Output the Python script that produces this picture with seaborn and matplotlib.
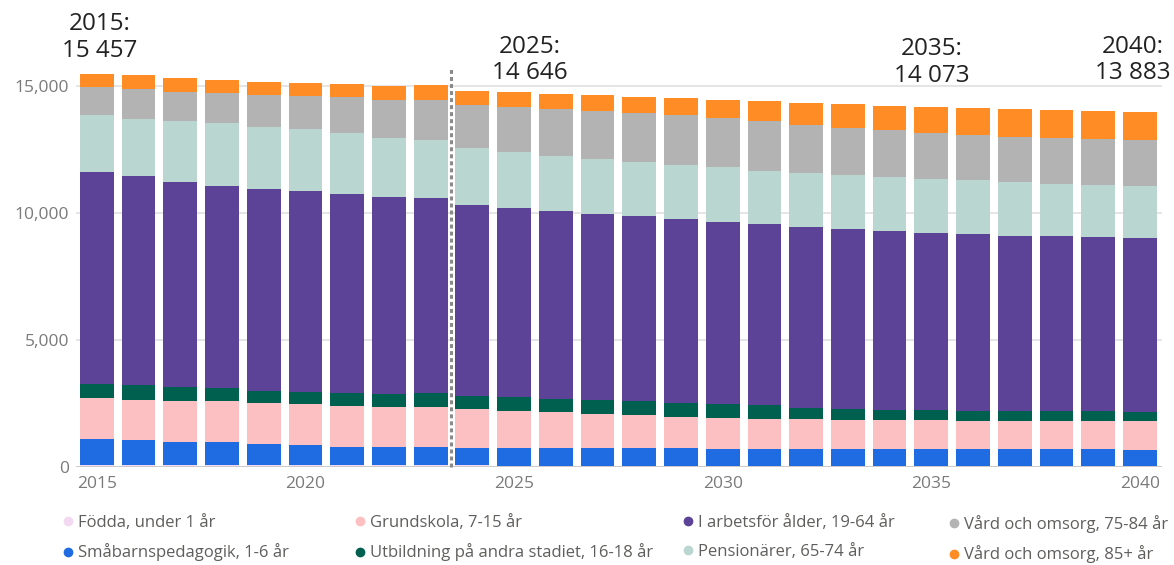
import matplotlib
matplotlib.use("Agg")
import matplotlib.pyplot as plt
from matplotlib.lines import Line2D
from matplotlib.ticker import FuncFormatter
import numpy as np
import pandas as pd
import seaborn as sns

# Data (persons per age group, stacked bottom to top)
years = list(range(2015, 2041))
fodda = [65, 70, 65, 60, 60, 60, 60, 60, 60, 50, 45, 45, 45, 45, 45, 45, 45,
         45, 45, 45, 45, 45, 45, 45, 45, 45]
smabarn = [1026, 982, 920, 901, 823, 783, 728, 728, 728, 699, 704, 704, 704,
           680, 680, 664, 664, 664, 652, 652, 652, 652, 652, 641, 641, 625]
grundskola = [1604, 1588, 1615, 1616, 1615, 1616, 1604, 1564, 1552, 1524, 1457,
              1394, 1327, 1300, 1245, 1221, 1182, 1158, 1143, 1143, 1131, 1115,
              1115, 1115, 1115, 1119]
utbildning = [563, 579, 540, 512, 496, 496, 524, 501, 552, 524, 528, 513, 552,
              552, 528, 529, 528, 458, 433, 406, 394, 394, 394, 394, 394, 378]
arbetsfor = [8365, 8235, 8089, 7982, 7936, 7908, 7829, 7773, 7683, 7514, 7471,
             7430, 7340, 7289, 7250, 7194, 7132, 7131, 7092, 7041, 6986, 6951,
             6895, 6883, 6855, 6856]
pensionarer = [2234, 2245, 2392, 2459, 2466, 2443, 2391, 2325, 2285, 2234, 2182,
               2144, 2143, 2127, 2127, 2143, 2111, 2116, 2128, 2127, 2139, 2127,
               2104, 2060, 2049, 2024]
vard_75_84 = [1115, 1182, 1154, 1182, 1237, 1311, 1442, 1509, 1576, 1706, 1785,
              1852, 1892, 1931, 1970, 1943, 1947, 1903, 1852, 1840, 1813, 1773,
              1785, 1801, 1801, 1813]
vard_85 = [489, 540, 528, 524, 512, 501, 512, 551, 591, 563, 579, 602, 642, 654,
           670, 709, 788, 855, 945, 969, 1012, 1076, 1103, 1115, 1115, 1115]

series = {
    "Födda, under 1 år": (fodda, "#F2D8F0"),
    "Småbarnspedagogik, 1-6 år": (smabarn, "#1F6BE2"),
    "Grundskola, 7-15 år": (grundskola, "#FCC0C3"),
    "Utbildning på andra stadiet, 16-18 år": (utbildning, "#00604F"),
    "I arbetsför ålder, 19-64 år": (arbetsfor, "#5C4398"),
    "Pensionärer, 65-74 år": (pensionarer, "#BAD6D1"),
    "Vård och omsorg, 75-84 år": (vard_75_84, "#B3B3B3"),
    "Vård och omsorg, 85+ år": (vard_85, "#FF8C24"),
}

callouts = [("2015:\n15 457", 2015), ("2025:\n14 646", 2025),
            ("2035:\n14 073", 2035), ("2040:\n13 883", 2040)]

df = pd.DataFrame({name: vals for name, (vals, _) in series.items()})
df["year"] = [str(y) for y in years]
names = list(series.keys())
cum = df[names].cumsum(axis=1)

sns.set_style("white")
plt.rcParams["font.family"] = ["Open Sans", "DejaVu Sans"]

fig = plt.figure(figsize=(11.74, 5.65), dpi=100)
ax = fig.add_axes([76 / 1174, 1 - 466.7 / 565, 1086 / 1174, (466.7 - 70.8) / 565])

# draw cumulative totals from the top layer down so each layer covers the next
for name in reversed(names):
    sns.barplot(x=df["year"], y=cum[name], color=series[name][1], saturation=1,
                width=0.81, ax=ax, zorder=3, linewidth=0)

ax.set_xlim(-0.5, 25.53)
ax.set_ylim(0, 15600)
ax.set_yticks([0, 5000, 10000, 15000])
ax.yaxis.set_major_formatter(FuncFormatter(lambda v, p: f"{int(v):,}"))
ax.set_xticks([0, 5, 10, 15, 20, 25])
ax.set_xticklabels(["2015", "2020", "2025", "2030", "2035", "2040"])
ax.set_xlabel("")
ax.set_ylabel("")
ax.grid(axis="y", color="#E3E3E3", linewidth=1.3, zorder=0)
ax.axhline(0, color="#C8C8C8", linewidth=2, zorder=4)
for s in ax.spines.values():
    s.set_visible(False)
ax.tick_params(axis="both", length=0, labelsize=12.5, colors="#7A7A7A")
ax.tick_params(axis="x", pad=7)
ax.tick_params(axis="y", pad=5)

# forecast divider
ax.axvline(8.5, ymax=1.01, color="#8A8A8A", linewidth=2.2,
           linestyle=(0, (1.3, 1.0)), zorder=5, clip_on=False)

# callout labels
pos = {2015: (0.07, 16900), 2025: (10.38, 16030), 2035: (20.02, 15930),
       2040: (24.84, 16030)}
for text, yr in callouts:
    x, y = pos[yr]
    ax.text(x, y, text, ha="center", va="center", fontsize=17.5,
            color="#222222", linespacing=1.15, clip_on=False)

# legend: four columns of two entries
col_x = [63, 355, 683, 949]
for i, cx in enumerate(col_x):
    hs = []
    for name in names[2 * i:2 * i + 2]:
        hs.append(Line2D([], [], marker="o", linestyle="none", markersize=6,
                         markerfacecolor=series[name][1],
                         markeredgecolor=series[name][1], label=name))
    fig.legend(handles=hs, loc="upper left",
               bbox_to_anchor=(cx / 1174, 1 - 515 / 565), frameon=False,
               fontsize=12, labelcolor="#605E5C", borderpad=0, borderaxespad=0,
               handlelength=0.6, handletextpad=0.3, labelspacing=0.75)

fig.savefig("out.png", dpi=100)
